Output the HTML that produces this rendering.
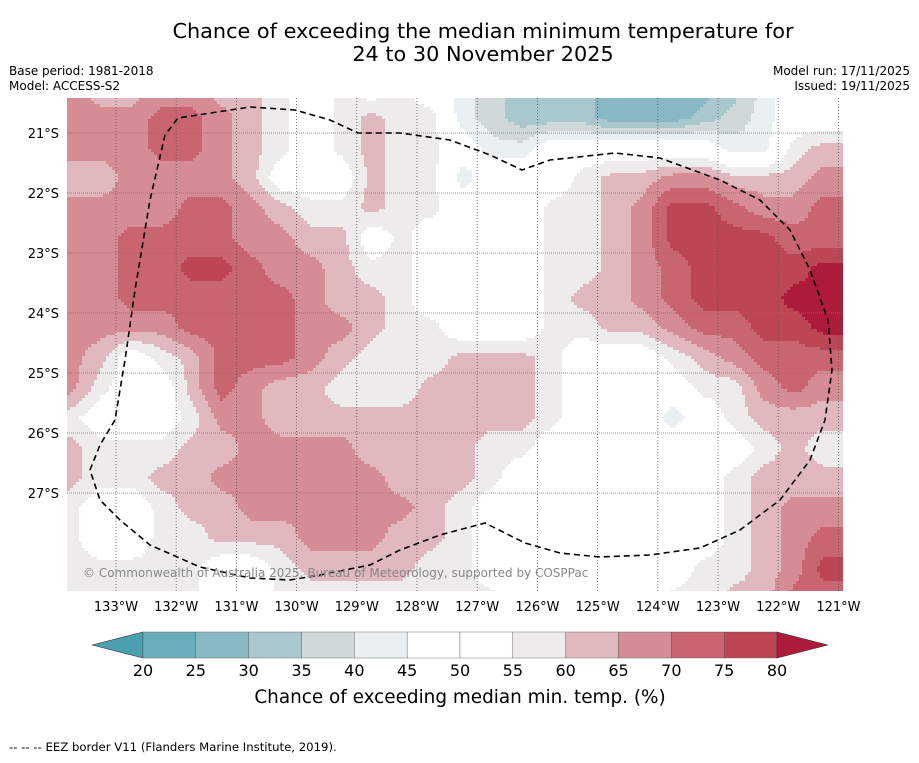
<!DOCTYPE html>
<html><head><meta charset="utf-8">
<style>
body{margin:0;background:#fff;width:919px;height:758px;overflow:hidden;font-family:"Liberation Sans","DejaVu Sans",sans-serif;}
svg text{font-family:"DejaVu Sans","Liberation Sans",sans-serif;}
</style></head>
<body>
<svg id="chart" width="919" height="758" viewBox="0 0 919 758" xmlns="http://www.w3.org/2000/svg">
<text x="483" y="38" font-size="20.8" text-anchor="middle" fill="#000">Chance of exceeding the median minimum temperature for</text>
<text x="483" y="61" font-size="20.8" text-anchor="middle" fill="#000">24 to 30 November 2025</text>
<text x="9" y="75" font-size="12">Base period: 1981-2018</text>
<text x="9" y="90" font-size="12">Model: ACCESS-S2</text>
<text x="910" y="75" font-size="12" text-anchor="end">Model run: 17/11/2025</text>
<text x="910" y="90" font-size="12" text-anchor="end">Issued: 19/11/2025</text>
<defs><clipPath id="mapclip"><rect x="67" y="98" width="776" height="493"/></clipPath></defs>
<g id="map" clip-path="url(#mapclip)"></g>
<g id="grid" clip-path="url(#mapclip)"></g>
<path clip-path="url(#mapclip)" fill="none" stroke="#000" stroke-width="1.6" stroke-dasharray="6,4" d="M90,470 L100,445 L115,420 L125,360 L135,290 L150,200 L165,135 L178,118 L250,107 L295,110 L330,120 L358,133 L400,133 L450,140 L490,155 L522,170 L550,160 L615,153 L660,158 L720,180 L760,200 L790,230 L810,270 L828,320 L832,370 L825,420 L810,460 L780,500 L740,530 L700,548 L650,555 L600,557 L560,553 L525,543 L485,523 L440,535 L400,550 L370,565 L320,575 L290,580 L250,578 L200,567 L150,545 L120,520 L100,500 Z"/>
<text x="83" y="577" font-size="12" fill="#888">© Commonwealth of Australia 2025, Bureau of Meteorology, supported by COSPPac</text>
<g id="xlabels"></g>
<g id="ylabels"></g>
<g id="cbar"></g>
<text x="460" y="703" font-size="18.4" text-anchor="middle">Chance of exceeding median min. temp. (%)</text>
<text x="9" y="751" font-size="11.7">--  --  -- EEZ border V11 (Flanders Marine Institute, 2019).</text>
</svg>
<script>
const lonTicks=[133,132,131,130,129,128,127,126,125,124,123,122,121];
const latTicks=[21,22,23,24,25,26,27];
const cbarTicks=[20,25,30,35,40,45,50,55,60,65,70,75,80];
const gridLon0=133.75, gridLat0=20.25, gridStep=0.5;
const r0=[67,62,62,67,67,62,62,57,50,57,50,57,50,42,37,32,32,32,27,27,27,27,32,42,50,50,50];
const r1=[67,67,67,72,72,67,62,57,50,57,62,57,57,42,37,32,32,32,27,27,27,32,37,42,50,50,50];
const r2=[67,67,67,72,72,67,62,57,50,57,62,57,57,50,42,42,50,50,50,50,50,50,42,42,57,62,62];
const r3=[62,62,67,67,67,67,62,50,50,50,62,57,57,42,50,50,50,57,62,62,67,67,62,62,62,67,67];
const r4=[67,67,67,67,72,72,67,62,57,57,62,57,57,50,50,50,57,57,62,67,77,77,72,67,67,72,72];
const r5=[67,67,72,72,72,72,67,67,62,62,50,57,50,50,50,50,57,57,62,67,77,77,77,77,72,72,72];
const r6=[67,67,72,72,77,77,72,67,67,62,57,57,50,50,50,50,57,57,62,67,72,77,77,77,77,82,82];
const r7=[67,67,72,72,72,72,72,72,67,62,62,57,50,50,50,50,57,62,62,67,72,77,77,77,82,82,82];
const r8=[67,67,67,67,72,72,72,72,67,67,62,57,57,50,50,50,57,57,62,62,67,72,72,77,77,82,82];
const r9=[67,62,50,57,62,72,72,72,67,62,57,57,57,62,62,62,57,50,50,50,57,62,67,72,72,72,72];
const r10=[67,57,50,50,62,72,67,62,62,57,57,57,62,62,62,62,57,50,50,50,50,57,57,67,72,67,67];
const r11=[57,50,50,50,57,67,67,62,62,62,62,62,62,62,62,62,57,50,50,50,42,50,57,62,62,62,62];
const r12=[62,57,57,57,62,62,67,67,67,67,62,62,62,62,57,57,50,50,50,50,50,50,50,57,62,57,57];
const r13=[62,57,57,62,62,67,67,67,67,67,67,62,62,62,57,50,50,50,50,50,50,50,57,62,62,62,62];
const r14=[57,50,50,57,62,62,67,67,67,67,67,67,62,57,50,50,50,50,50,50,50,50,57,62,67,67,67];
const r15=[57,50,50,57,57,62,62,62,67,67,67,62,62,57,50,50,50,50,50,50,50,50,57,62,67,72,72];
const r16=[57,57,57,57,57,50,50,57,62,62,62,62,57,57,50,50,50,50,50,50,50,57,57,62,67,77,77];
const r17=[57,57,57,57,57,50,50,57,57,57,57,57,57,57,57,50,50,50,50,50,57,57,62,62,72,72,72];
const values=[r0,r1,r2,r3,r4,r5,r6,r7,r8,r9,r10,r11,r12,r13,r14,r15,r16,r17];

const NS='http://www.w3.org/2000/svg';
function xOf(lon){return 116+(133-lon)*60.2;}
function yOf(lat){return 133+(lat-21)*60;}
function lonOf(x){return 133-(x-116)/60.2;}
function latOf(y){return 21+(y-133)/60;}
const bandColors=['#4a9fb0','#6aaebd','#88b8c3','#a8c8cd','#d0d8da','#eaf0f2','#ffffff','#ffffff','#eeeceb','#e0b8bd','#d58c95','#c96571','#bc4655','#ae1b3a'];
function colorOf(v){if(v<20)return bandColors[0];let k=Math.floor((v-20)/5)+1;if(k>13)k=13;return bandColors[k];}
function sample(lon,lat){
  const nr=values.length,nc=values[0].length;
  let fi=(gridLon0-lon)/gridStep, fj=(lat-gridLat0)/gridStep;
  fi=Math.max(0,Math.min(nc-1.0001,fi)); fj=Math.max(0,Math.min(nr-1.0001,fj));
  const i=Math.floor(fi),j=Math.floor(fj),a=fi-i,b=fj-j;
  return values[j][i]*(1-a)*(1-b)+values[j][i+1]*a*(1-b)+values[j+1][i]*(1-a)*b+values[j+1][i+1]*a*b;
}
function mk(tag,attrs,parent){const e=document.createElementNS(NS,tag);for(const k in attrs)e.setAttribute(k,attrs[k]);parent.appendChild(e);return e;}
const map=document.getElementById('map');
const step=3;
function addRun(x0,x1,y,col){
  const r=mk('rect',{x:x0,y:y,width:x1-x0+0.5,height:step+0.5,fill:col},map);
  
  
}
for(let y=98;y<591;y+=step){
  let runStart=67,runCol=null,x=67;
  for(;x<843;x+=step){
    const c=colorOf(sample(lonOf(x+step/2),latOf(y+step/2)));
    if(c!==runCol){
      if(runCol!==null) addRun(runStart,x,y,runCol);
      runStart=x;runCol=c;
    }
  }
  if(runCol!==null) addRun(runStart,846,y,runCol);
}
const grid=document.getElementById('grid');
lonTicks.forEach(l=>{const ln=mk('line',{x1:xOf(l),x2:xOf(l),y1:98,y2:591,stroke:'#555','stroke-width':0.8,'stroke-dasharray':'1,2'},grid);

});
latTicks.forEach(l=>{const ln=mk('line',{x1:67,x2:843,y1:yOf(l),y2:yOf(l),stroke:'#777','stroke-width':0.8,'stroke-dasharray':'1,1'},grid);

});
const xl=document.getElementById('xlabels');
lonTicks.forEach(l=>{const t=mk('text',{x:xOf(l),y:611,'font-size':13,'text-anchor':'middle'},xl);t.textContent=l+'°W';

});
const yl=document.getElementById('ylabels');
latTicks.forEach(l=>{const t=mk('text',{x:59,y:yOf(l)+5,'font-size':13,'text-anchor':'end'},yl);t.textContent=l+'°S';

});
const cb=document.getElementById('cbar');
const cbX0=143,cbX1=777,cbY=632,cbH=26;
function cbx(v){return cbX0+(v-20)*(cbX1-cbX0)/60;}
const lt=mk('polygon',{points:`92,${cbY+cbH/2} ${cbX0},${cbY} ${cbX0},${cbY+cbH}`,fill:bandColors[0],stroke:'#333','stroke-width':0.6},cb);


for(let k=0;k<12;k++){const v=20+k*5;const r=mk('rect',{x:cbx(v),y:cbY,width:cbx(v+5)-cbx(v),height:cbH,fill:bandColors[k+1],stroke:'#555','stroke-width':0.4},cb);

}
const rt=mk('polygon',{points:`${cbX1},${cbY} 828,${cbY+cbH/2} ${cbX1},${cbY+cbH}`,fill:bandColors[13],stroke:'#333','stroke-width':0.6},cb);


cbarTicks.forEach(v=>{const t=mk('text',{x:cbx(v),y:676,'font-size':16,'text-anchor':'middle'},cb);t.textContent=v;

});
</script>
</body></html>
